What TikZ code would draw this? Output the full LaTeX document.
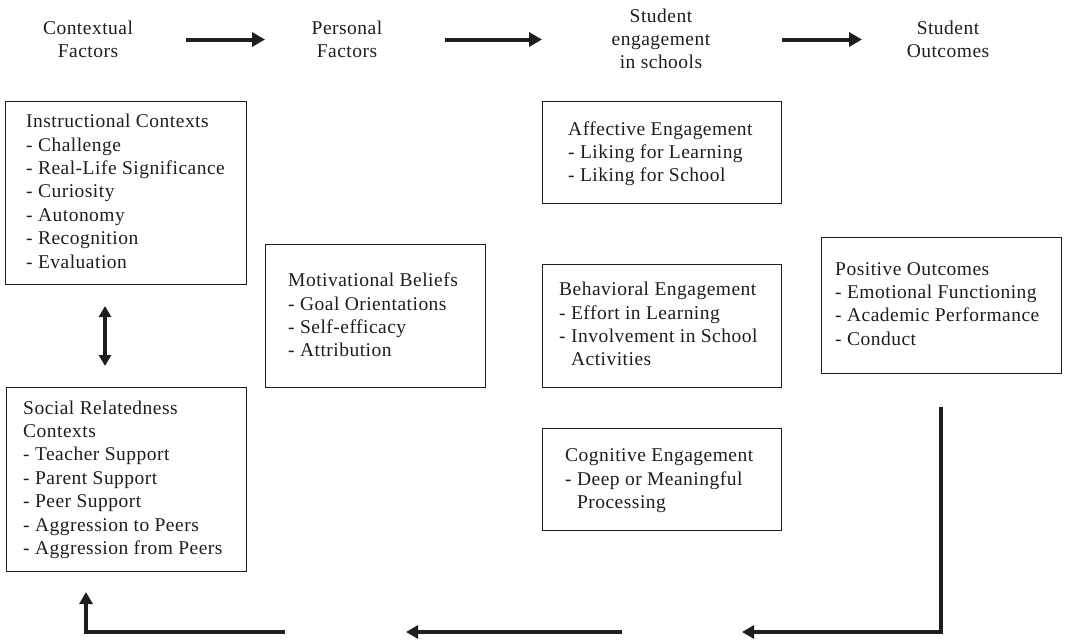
\documentclass[tikz,border=0pt]{standalone}
\usepackage{fontspec}
\setmainfont[LetterSpace=2.5]{Liberation Serif}
\usetikzlibrary{arrows.meta}
\definecolor{ink}{HTML}{1E1E1E}
\tikzset{
  x=1pt, y=-1pt,
  frame/.style={draw=ink, line width=1.3pt, anchor=north west, inner sep=0pt},
  txt/.style={anchor=base west, inner sep=0pt, text=ink, font=\fontsize{19.5}{23.4}\selectfont},
  head/.style={anchor=base, inner sep=0pt, text=ink, font=\fontsize{19.5}{23.4}\selectfont},
  flow/.style={draw=ink, line width=4pt, -{Triangle[length=13pt,width=14pt]}},
  back/.style={draw=ink, line width=3.5pt, line join=miter, -{Triangle[length=12pt,width=13pt]}},
  twoway/.style={draw=ink, line width=3.2pt, {Triangle[length=11pt,width=12pt]}-{Triangle[length=11pt,width=12pt]}}
}
\newcommand{\blk}[1]{\begin{tabular}[t]{@{}l@{}}#1\end{tabular}}
\newcommand{\cblk}[1]{\begin{tabular}[t]{@{}c@{}}#1\end{tabular}}
\begin{document}
\begin{tikzpicture}
\useasboundingbox (0,0) rectangle (1080,640);
% headers
\node[head] (hctx) at (88,34) {\cblk{Contextual\\Factors}};
\node[head] (hper) at (347,34) {\cblk{Personal\\Factors}};
\node[head] (heng) at (661,22) {\cblk{Student\\engagement\\in schools}};
\node[head] (hout) at (948,34) {\cblk{Student\\Outcomes}};
\coordinate (a1s) at (186,39.5); \coordinate (a1e) at (265,39.5);
\coordinate (a2s) at (445,39.5); \coordinate (a2e) at (542,39.5);
\coordinate (a3s) at (782,39.5); \coordinate (a3e) at (862,39.5);
\draw[flow] (a1s) -- (a1e);
\draw[flow] (a2s) -- (a2e);
\draw[flow] (a3s) -- (a3e);
% boxes
\node[frame, minimum width=241pt, minimum height=183pt] (ic) at (5,101) {};
\node[txt] (ict) at (26,127.7) {\blk{Instructional Contexts\\- Challenge\\- Real-Life Significance\\- Curiosity\\- Autonomy\\- Recognition\\- Evaluation}};
\node[frame, minimum width=240pt, minimum height=184pt] (sr) at (6,387) {};
\node[txt] (srt) at (23,414) {\blk{Social Relatedness\\Contexts\\- Teacher Support\\- Parent Support\\- Peer Support\\- Aggression to Peers\\- Aggression from Peers}};
\node[frame, minimum width=220pt, minimum height=143pt] (mb) at (265,244) {};
\node[txt] (mbt) at (288,286.7) {\blk{Motivational Beliefs\\- Goal Orientations\\- Self-efficacy\\- Attribution}};
\node[frame, minimum width=239pt, minimum height=102pt] (ae) at (542,101) {};
\node[txt] (aet) at (568,135) {\blk{Affective Engagement\\- Liking for Learning\\- Liking for School}};
\node[frame, minimum width=239pt, minimum height=123pt] (be) at (542,264) {};
\node[txt] (bet) at (559,295.7) {\blk{Behavioral Engagement\\- Effort in Learning\\- Involvement in School\\\hphantom{- }Activities}};
\node[frame, minimum width=239pt, minimum height=102pt] (ce) at (542,428) {};
\node[txt] (cet) at (565,461.7) {\blk{Cognitive Engagement\\- Deep or Meaningful\\\hphantom{- }Processing}};
\node[frame, minimum width=240pt, minimum height=136pt] (po) at (821,237) {};
\node[txt] (pot) at (835,275) {\blk{Positive Outcomes\\- Emotional Functioning\\- Academic Performance\\- Conduct}};
% double arrow between contexts
\coordinate (d1) at (105,306); \coordinate (d2) at (105,366);
\draw[twoway] (d1) -- (d2);
% feedback loop
\coordinate (f1) at (941,407); \coordinate (f2) at (941,632); \coordinate (f3) at (742,632);
\coordinate (g1) at (622,632); \coordinate (g2) at (406,632);
\coordinate (h1) at (285,632); \coordinate (h2) at (86,632); \coordinate (h3) at (86,592);
\draw[back] (f1) -- (f2) -- (f3);
\draw[back] (g1) -- (g2);
\draw[back] (h1) -- (h2) -- (h3);
\end{tikzpicture}
\end{document}
